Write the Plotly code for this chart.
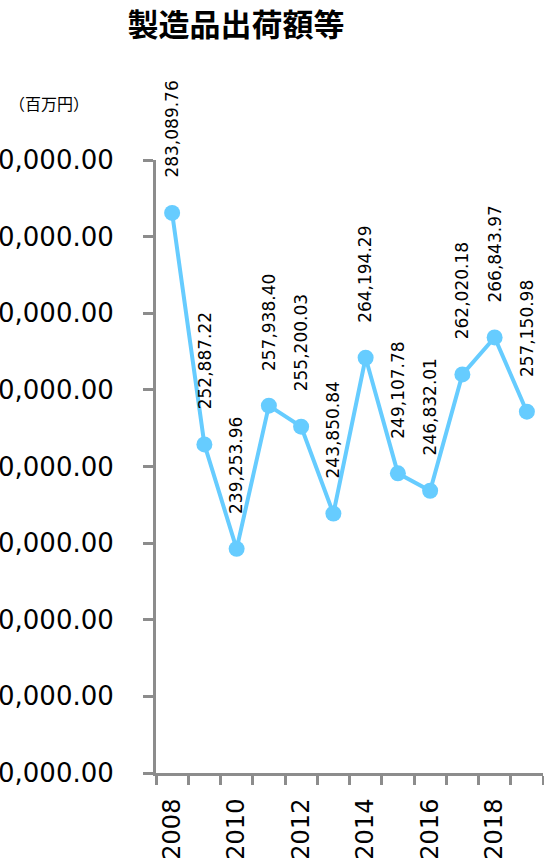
import plotly.graph_objects as go

years = [2008, 2009, 2010, 2011, 2012, 2013, 2014, 2015, 2016, 2017, 2018, 2019]
values = [283089.76, 252887.22, 239253.96, 257938.40, 255200.03, 243850.84,
          264194.29, 249107.78, 246832.01, 262020.18, 266843.97, 257150.98]
label_years = [2008, 2010, 2012, 2014, 2016, 2018]
title_text = "製造品出荷額等"
unit_text = "（百万円）"

font_main = "Verdana, DejaVu Sans, sans-serif"
cjk = "Noto Sans CJK JP"
blue = "#66CCFF"
axis_col = "#8c8c8c"

fig = go.Figure()
fig.add_trace(go.Scatter(
    x=years, y=values, mode="lines+markers",
    line=dict(color=blue, width=4),
    marker=dict(color=blue, size=16),
    hoverinfo="skip", showlegend=False,
))

annotations = []
for yr, v in zip(years, values):
    annotations.append(dict(
        x=yr, y=v, xref="x", yref="y", text=f"{v:,.2f}", textangle=-90,
        showarrow=False, xanchor="center", yanchor="bottom", yshift=33,
        font=dict(family=font_main, size=17, color="#000"),
    ))
annotations.append(dict(
    x=-0.385, y=1.093, xref="paper", yref="paper", text=unit_text,
    showarrow=False, xanchor="left", yanchor="middle",
    font=dict(family=cjk, size=16, color="#000"),
))

boundaries = [y - 0.5 for y in years] + [years[-1] + 0.5]

fig.update_layout(
    width=544, height=860,
    margin=dict(l=156, r=1, t=160, b=87),
    paper_bgcolor="white", plot_bgcolor="white",
    title=dict(text=f"<b>{title_text}</b>", x=236/544, xref="container", xanchor="center",
               y=1-25/860, yref="container", yanchor="middle",
               font=dict(family=cjk, size=31, color="#000")),
    annotations=annotations,
    xaxis=dict(
        range=[years[0] - 0.5, years[-1] + 0.5],
        tickmode="array", tickvals=label_years, ticktext=[str(y) for y in label_years],
        ticks="", tickangle=-90, showgrid=False, zeroline=False,
        showline=True, linecolor=axis_col, linewidth=3, automargin=False,
        tickfont=dict(family=font_main, size=24, color="#000"),
        ticklabelstandoff=13,
        minor=dict(tickmode="array", tickvals=boundaries, ticks="outside",
                   ticklen=9, tickwidth=3, tickcolor=axis_col, showgrid=False),
    ),
    yaxis=dict(
        range=[210000, 290000], dtick=10000, tick0=210000, tickformat=",.2f",
        ticks="outside", ticklen=10, tickwidth=3, tickcolor=axis_col,
        showline=True, linecolor=axis_col, linewidth=3,
        showgrid=False, zeroline=False, automargin=False,
        tickfont=dict(family=font_main, size=26, color="#000"),
        ticklabelstandoff=24,
    ),
)

fig.write_html("out.html", config={"displayModeBar": False},
               post_script="document.body.style.margin='0';document.body.style.overflow='hidden';")
